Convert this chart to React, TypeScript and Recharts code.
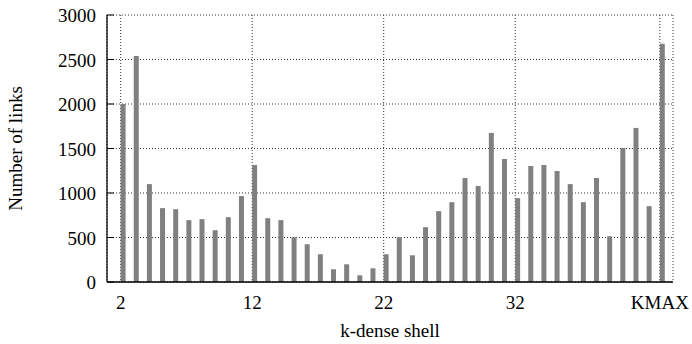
import React from 'react';
import { BarChart, Bar, XAxis, YAxis, CartesianGrid } from 'recharts';

const shells = [2, 3, 4, 5, 6, 7, 8, 9, 10, 11, 12, 13, 14, 15, 16, 17, 18, 19, 20, 21, 22, 23, 24, 25, 26, 27, 28, 29, 30, 31, 32, 33, 34, 35, 36, 37, 38, 39, 40, 41, 42, 43];
const links = [2000, 2540, 1100, 830, 818, 695, 706, 582, 728, 965, 1314, 717, 695, 503, 424, 312, 143, 199, 75, 154, 312, 503, 300, 616, 796, 897, 1168, 1078, 1675, 1382, 942, 1303, 1314, 1247, 1100, 897, 1168, 514, 1506, 1731, 852, 2677];
const xTicks = [2, 12, 22, 32, 43];
const xTickLabels = ['2', '12', '22', '32', 'KMAX'];
const yTicks = [0, 500, 1000, 1500, 2000, 2500, 3000];

const data = shells.map((k, i) => ({ k, links: links[i] }));

const FONT = '"Liberation Serif", "Times New Roman", serif';

const XTick = (props: any) => {
  const { x, y, payload } = props;
  const idx = xTicks.indexOf(payload.value);
  return (
    <text x={x} y={y + 26.5} textAnchor="middle" fontFamily={FONT} fontSize={19} fill="#000">
      {idx >= 0 ? xTickLabels[idx] : payload.value}
    </text>
  );
};

const YTick = (props: any) => {
  const { x, y, payload } = props;
  return (
    <g>
      <line x1={x} y1={y} x2={x + 7} y2={y} stroke="#000" strokeWidth={1} />
      <text x={x - 11} y={y + 7} textAnchor="end" fontFamily={FONT} fontSize={19} fill="#000">
        {payload.value}
      </text>
    </g>
  );
};

const BarShape = (props: any) => {
  const { x, y, width, height } = props;
  if (!height || height <= 0) return null;
  return <rect x={x + width / 2} y={y} width={width} height={height} fill="#808080" />;
};

const YLabel = (props: any) => {
  const vb = props.viewBox || {};
  const cy = vb.y + vb.height / 2;
  return (
    <text x={22} y={cy} transform={`rotate(-90, 22, ${cy})`} textAnchor="middle" fontFamily={FONT} fontSize={19} fill="#000">
      Number of links
    </text>
  );
};

const XLabel = (props: any) => {
  const vb = props.viewBox || {};
  const cx = vb.x + vb.width / 2;
  return (
    <text x={cx} y={337} textAnchor="middle" fontFamily={FONT} fontSize={19} fill="#000">
      k-dense shell
    </text>
  );
};

export default function App() {
  return (
    <div style={{ position: 'absolute', left: 0, top: 0, background: '#fff' }}>
      <BarChart width={692} height={344} data={data} margin={{ top: 15, right: 19, bottom: 0, left: 0 }}>
        <CartesianGrid stroke="#333" strokeDasharray="1 2" strokeWidth={1} />
        <XAxis
          dataKey="k"
          type="number"
          domain={[0.96, 44]}
          allowDataOverflow
          ticks={xTicks}
          interval={0}
          tickSize={0}
          tickMargin={0}
          tickLine={false}
          axisLine={{ stroke: '#000', strokeWidth: 1.3 }}
          tick={<XTick />}
          height={62}
          label={<XLabel />}
        />
        <YAxis
          type="number"
          domain={[0, 3000]}
          ticks={yTicks}
          interval={0}
          tickSize={0}
          tickMargin={0}
          tickLine={false}
          axisLine={{ stroke: '#000', strokeWidth: 1.3 }}
          tick={<YTick />}
          width={107}
          label={<YLabel />}
        />
        <Bar dataKey="links" barSize={5} isAnimationActive={false} shape={<BarShape />} />
      </BarChart>
    </div>
  );
}
